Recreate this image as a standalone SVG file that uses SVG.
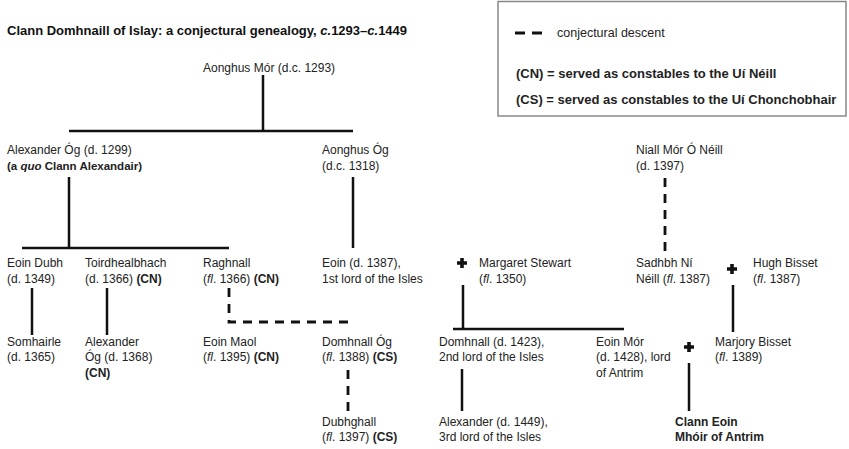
<svg xmlns="http://www.w3.org/2000/svg" width="849" height="449" viewBox="0 0 849 449">
<style>
text{font-family:"Liberation Sans",Arial,sans-serif;font-size:12px;fill:#222}
.b{font-weight:bold}
.i{font-style:italic}
.t{font-size:13px;font-weight:bold;fill:#111}
.lg{font-size:13px;font-weight:bold}
.ln{stroke:#111;stroke-width:2.5;fill:none}
.ds{stroke:#111;stroke-width:2.8;fill:none;stroke-dasharray:9 7}
.cross{stroke:#111;stroke-width:3.6;fill:none}
</style>
<rect width="849" height="449" fill="#fff"/>
<text class="t" x="7" y="35">Clann Domhnaill of Islay: a conjectural genealogy, <tspan class="i">c.</tspan>1293–<tspan class="i">c.</tspan>1449</text>

<g id="legend">
<rect x="498" y="1.5" width="348" height="114.5" fill="#fff" stroke="#888" stroke-width="1.5"/>
<path d="M515,33H525M532,33H542" stroke="#111" stroke-width="3"/>
<text x="557" y="37" style="font-size:12.5px">conjectural descent</text>
<text class="lg" x="516" y="78">(CN) = served as constables to the Uí Néill</text>
<text class="lg" x="516" y="104">(CS) = served as constables to the Uí Chonchobhair</text>
</g>

<g id="connectors">
<path class="ln" d="M263,75V131M69,131H353"/>
<path class="ln" d="M69,177V248M22,248H229"/>
<path class="ln" d="M353,177V248"/>
<path class="ln" d="M32,288V335M107,288V335"/>
<path class="ds" d="M229,288V322H349"/>
<path class="ds" d="M348,370V412"/>
<path class="ds" d="M665,178V255"/>
<path class="ln" d="M463,285V329M453,329H624"/>
<path class="ln" d="M733,285V332"/>
<path class="ln" d="M462,369V411"/>
<path class="ln" d="M689,363V411"/>
<path class="cross" d="M457,263H467M462,258V268"/>
<path class="cross" d="M727,269H737M732,264V274"/>
<path class="cross" d="M684,347H694M689,342V352"/>
</g>

<g id="aonghus-mor"><text x="203" y="72">Aonghus Mór (d.c. 1293)</text></g>
<g id="alexander-og-1299"><text x="7" y="154">Alexander Óg (d. 1299)</text><text class="b" x="7" y="170" style="font-size:11.5px">(a <tspan class="i">quo</tspan> Clann Alexandair)</text></g>
<g id="aonghus-og"><text x="322" y="154">Aonghus Óg</text><text x="322" y="170">(d.c. 1318)</text></g>
<g id="niall-mor"><text x="636" y="154">Niall Mór Ó Néill</text><text x="636" y="170">(d. 1397)</text></g>

<g id="eoin-dubh"><text x="7" y="267">Eoin Dubh</text><text x="7" y="283">(d. 1349)</text></g>
<g id="toirdhealbhach"><text x="85" y="267">Toirdhealbhach</text><text x="85" y="283">(d. 1366) <tspan class="b">(CN)</tspan></text></g>
<g id="raghnall"><text x="203" y="267">Raghnall</text><text x="203" y="283">(<tspan class="i">fl</tspan>. 1366) <tspan class="b">(CN)</tspan></text></g>
<g id="eoin-1387"><text x="322" y="267">Eoin (d. 1387),</text><text x="322" y="283">1st lord of the Isles</text></g>
<g id="margaret-stewart"><text x="479" y="267">Margaret Stewart</text><text x="479" y="283">(<tspan class="i">fl</tspan>. 1350)</text></g>
<g id="sadhbh"><text x="636" y="267">Sadhbh Ní</text><text x="636" y="283">Néill (<tspan class="i">fl</tspan>. 1387)</text></g>
<g id="hugh-bisset"><text x="753" y="267">Hugh Bisset</text><text x="753" y="283">(<tspan class="i">fl</tspan>. 1387)</text></g>

<g id="somhairle"><text x="7" y="346">Somhairle</text><text x="7" y="361">(d. 1365)</text></g>
<g id="alexander-og-1368"><text x="85" y="346">Alexander</text><text x="85" y="361">Óg (d. 1368)</text><text class="b" x="85" y="377">(CN)</text></g>
<g id="eoin-maol"><text x="203" y="346">Eoin Maol</text><text x="203" y="361">(<tspan class="i">fl</tspan>. 1395) <tspan class="b">(CN)</tspan></text></g>
<g id="domhnall-og"><text x="322" y="346">Domhnall Óg</text><text x="322" y="361">(<tspan class="i">fl</tspan>. 1388) <tspan class="b">(CS)</tspan></text></g>
<g id="domhnall-1423"><text x="439" y="346">Domhnall (d. 1423),</text><text x="439" y="361">2nd lord of the Isles</text></g>
<g id="eoin-mor"><text x="596" y="346">Eoin Mór</text><text x="596" y="361">(d. 1428), lord</text><text x="596" y="377">of Antrim</text></g>
<g id="marjory-bisset"><text x="715" y="346">Marjory Bisset</text><text x="715" y="361">(<tspan class="i">fl</tspan>. 1389)</text></g>

<g id="dubhghall"><text x="322" y="426">Dubhghall</text><text x="322" y="441">(<tspan class="i">fl</tspan>. 1397) <tspan class="b">(CS)</tspan></text></g>
<g id="alexander-1449"><text x="439" y="426">Alexander (d. 1449),</text><text x="439" y="441">3rd lord of the Isles</text></g>
<g id="clann-eoin"><text class="b" x="675" y="426">Clann Eoin</text><text class="b" x="675" y="441">Mhóir of Antrim</text></g>
</svg>
